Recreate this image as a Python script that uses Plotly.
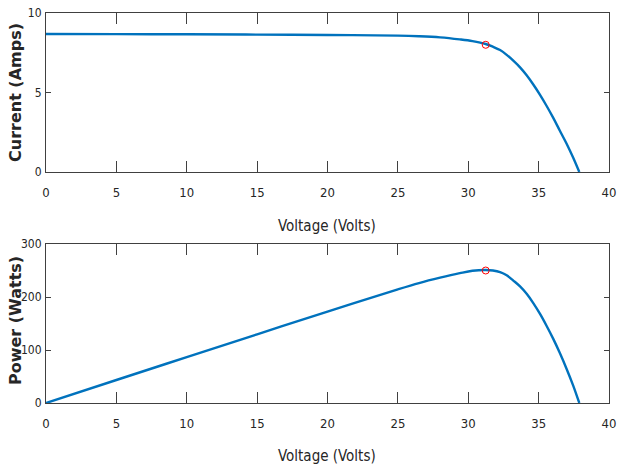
import plotly.graph_objects as go

# Data
voltage = [0, 5, 10, 15, 20, 25, 26.5, 28, 29.4, 30.3, 31.24, 31.75, 32.26, 32.73, 33.2, 33.68, 34.15, 34.62,
           35.1, 35.57, 36.04, 36.5, 36.99, 37.45, 37.89]
current = [8.68, 8.67, 8.66, 8.64, 8.62, 8.58, 8.54, 8.47, 8.34, 8.23, 8.05, 7.88, 7.67, 7.37, 7.0, 6.58, 6.08, 5.5,
           4.85, 4.15, 3.4, 2.61, 1.78, 0.91, 0]
power = [0, 43.4, 86.6, 129.6, 172.4, 214.5, 226.3, 236.5, 245, 249.5, 251, 250, 247, 241, 231, 220, 206, 188.5,
         168, 145.3, 121, 94.7, 64.3, 33.3, 0]

mpp_v = [31.24]
mpp_i = [8.0]
mpp_p = [250]

x_ticks = [0, 5, 10, 15, 20, 25, 30, 35, 40]
i_ticks = [0, 5, 10]
p_ticks = [0, 100, 200, 300]

BLUE = "#0072BD"
NARROW = "DejaVu Sans Condensed, Liberation Sans Narrow, Arial Narrow, sans-serif"
TICKFONT = dict(family=NARROW, size=13, color="#262626")
YTICKFONT = dict(family=NARROW, size=12, color="#262626")
TITLEFONT_Y = dict(family="DejaVu Sans, Verdana, sans-serif", size=16, color="#262626")
TITLEFONT_X = dict(family=NARROW, size=15, color="#262626")

fig = go.Figure()
fig.add_trace(go.Scatter(x=voltage, y=current, mode="lines",
                         line=dict(color=BLUE, width=2.4, shape="spline", smoothing=1.0),
                         xaxis="x", yaxis="y", showlegend=False))
fig.add_trace(go.Scatter(x=mpp_v, y=mpp_i, mode="markers",
                         marker=dict(symbol="circle-open", size=7, color="red", line=dict(width=1)),
                         xaxis="x", yaxis="y", showlegend=False))
fig.add_trace(go.Scatter(x=voltage, y=power, mode="lines",
                         line=dict(color=BLUE, width=2.4, shape="spline", smoothing=1.0),
                         xaxis="x2", yaxis="y2", showlegend=False))
fig.add_trace(go.Scatter(x=mpp_v, y=mpp_p, mode="markers",
                         marker=dict(symbol="circle-open", size=7, color="red", line=dict(width=1)),
                         xaxis="x2", yaxis="y2", showlegend=False))

xcommon = dict(range=[0, 40], tickvals=x_ticks, ticks="inside", ticklen=11, tickwidth=1, tickcolor="#404040",
               showline=True, linecolor="#404040", linewidth=1, mirror="ticks", showgrid=False, zeroline=False,
               tickfont=TICKFONT, ticklabelstandoff=8, automargin=False)
ycommon = dict(ticks="inside", ticklen=5, tickwidth=1, tickcolor="#404040",
               showline=True, linecolor="#404040", linewidth=1, mirror="ticks", showgrid=False, zeroline=False,
               tickfont=YTICKFONT, ticklabelstandoff=1, automargin=False)

top_lo = (403 - 172) / 390
bot_hi = (403 - 244) / 390

fig.update_layout(
    width=629, height=468,
    margin=dict(l=46, r=20, t=13, b=65, autoexpand=False),
    paper_bgcolor="white", plot_bgcolor="white",
    xaxis=dict(domain=[0, 1], anchor="y", **xcommon),
    yaxis=dict(domain=[top_lo, 1], anchor="x", range=[0, 10], tickvals=i_ticks, **ycommon),
    xaxis2=dict(domain=[0, 1], anchor="y2", **xcommon),
    yaxis2=dict(domain=[0, bot_hi], anchor="x2", range=[0, 300], tickvals=p_ticks, **ycommon),
    annotations=[
        dict(text="<b>Current (Amps)</b>", textangle=-90, xref="paper", yref="paper",
             x=-31 / 563, y=(403 - 93) / 390, xanchor="center", yanchor="middle", showarrow=False, font=TITLEFONT_Y),
        dict(text="<b>Power (Watts)</b>", textangle=-90, xref="paper", yref="paper",
             x=-31 / 563, y=(403 - 321) / 390, xanchor="center", yanchor="middle", showarrow=False, font=TITLEFONT_Y),
        dict(text="Voltage (Volts)", xref="paper", yref="paper", x=(327 - 46) / 563, y=(403 - 226) / 390,
             xanchor="center", yanchor="middle", showarrow=False, font=TITLEFONT_X),
        dict(text="Voltage (Volts)", xref="paper", yref="paper", x=(327 - 46) / 563, y=(403 - 456) / 390,
             xanchor="center", yanchor="middle", showarrow=False, font=TITLEFONT_X),
    ],
)

fig.write_html("out.html", config={"displayModeBar": False},
               post_script="document.body.style.margin='0px';document.body.style.overflow='hidden';")
